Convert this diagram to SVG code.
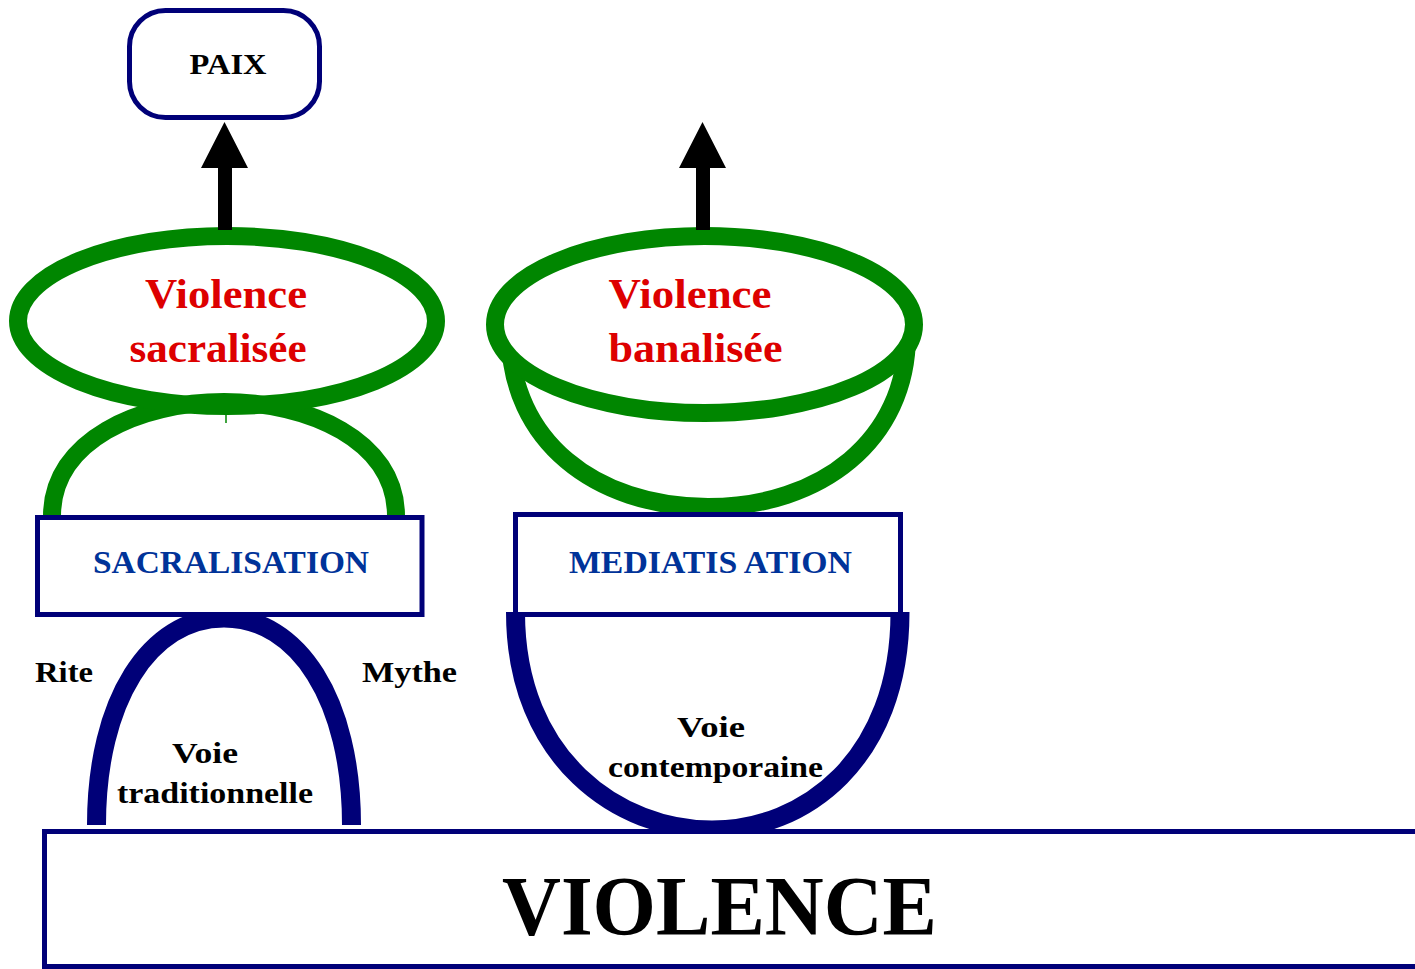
<svg xmlns="http://www.w3.org/2000/svg" width="1415" height="969" viewBox="0 0 1415 969">
<style>
.box{fill:#fff;stroke:#000078;stroke-width:5}
.green{fill:none;stroke:#008600;stroke-width:18}
.green.filled{fill:#fff}
.navy{fill:none;stroke:#000078;stroke-width:19}
.t{font-family:"Liberation Serif","Times New Roman",serif;font-weight:bold;text-anchor:middle}
.red{fill:#dd0000;font-size:42px}
.blue{fill:#003399;font-size:31px}
.blk{fill:#000;font-size:30px}
.arrow{fill:#000}
</style>
<rect width="1415" height="969" fill="#fff"/>
<g id="paix">
<rect class="box" x="129.5" y="10.5" width="190" height="107" rx="36"/>
<text class="t blk" x="228" y="74" textLength="77" lengthAdjust="spacingAndGlyphs">PAIX</text>
</g>
<g id="violence-sacralisee">
<path class="green" d="M52,516 C52,440 140,402 224,402 C308,402 396,440 396,516"/>
<line x1="226" y1="395" x2="226" y2="423" stroke="#008600" stroke-width="1.5"/>
<ellipse class="green" cx="227" cy="321" rx="209" ry="85"/>
<text class="t red" x="226" y="308" textLength="162" lengthAdjust="spacingAndGlyphs">Violence</text>
<text class="t red" x="218" y="362" textLength="177" lengthAdjust="spacingAndGlyphs">sacralisée</text>
</g>
<g id="violence-banalisee">
<path class="green" d="M510,335 C510,440 595,507 708,507 C821,507 907,440 907,335"/>
<ellipse class="green filled" cx="704.5" cy="324.5" rx="209.5" ry="88.5"/>
<text class="t red" x="690" y="308" textLength="163" lengthAdjust="spacingAndGlyphs">Violence</text>
<text class="t red" x="695.5" y="362" textLength="174" lengthAdjust="spacingAndGlyphs">banalisée</text>
</g>
<g id="voie-traditionnelle">
<path class="navy" d="M96.5,825 C96.5,700 150,618 224,618 C298,618 351.5,700 351.5,825"/>
<text class="t blk" x="205" y="763" textLength="66" lengthAdjust="spacingAndGlyphs">Voie</text>
<text class="t blk" x="215" y="803" textLength="196" lengthAdjust="spacingAndGlyphs">traditionnelle</text>
</g>
<g id="rite"><text class="t blk" x="64" y="682" textLength="58" lengthAdjust="spacingAndGlyphs">Rite</text></g>
<g id="mythe"><text class="t blk" x="409.5" y="682" textLength="95" lengthAdjust="spacingAndGlyphs">Mythe</text></g>
<g id="voie-contemporaine">
<path class="navy" d="M515.5,612 C515.5,760 620,830 712,830 C804,830 900,760 900,612"/>
<text class="t blk" x="711" y="737" textLength="68" lengthAdjust="spacingAndGlyphs">Voie</text>
<text class="t blk" x="715.5" y="777" textLength="215" lengthAdjust="spacingAndGlyphs">contemporaine</text>
</g>
<g id="sacralisation">
<rect class="box" x="37.5" y="517.5" width="384.5" height="97"/>
<text class="t blue" x="231" y="573" textLength="276" lengthAdjust="spacingAndGlyphs">SACRALISATION</text>
</g>
<g id="mediatisation">
<rect class="box" x="515.5" y="514.5" width="385" height="100"/>
<text class="t blue" x="710.5" y="573" textLength="283" lengthAdjust="spacingAndGlyphs">MEDIATIS ATION</text>
</g>
<g id="violence">
<rect class="box" x="44.5" y="831.5" width="1400" height="135"/>
<text class="t" x="719.5" y="935" font-size="84" fill="#000" textLength="435" lengthAdjust="spacingAndGlyphs">VIOLENCE</text>
</g>
<g id="connectors">
<path class="arrow" d="M218,230 L218,168 L201,168 L224.5,122 L248,168 L232,168 L232,230 Z"/>
<path class="arrow" d="M696,230 L696,168 L679,168 L702.5,122 L726,168 L710,168 L710,230 Z"/>
</g>
</svg>
